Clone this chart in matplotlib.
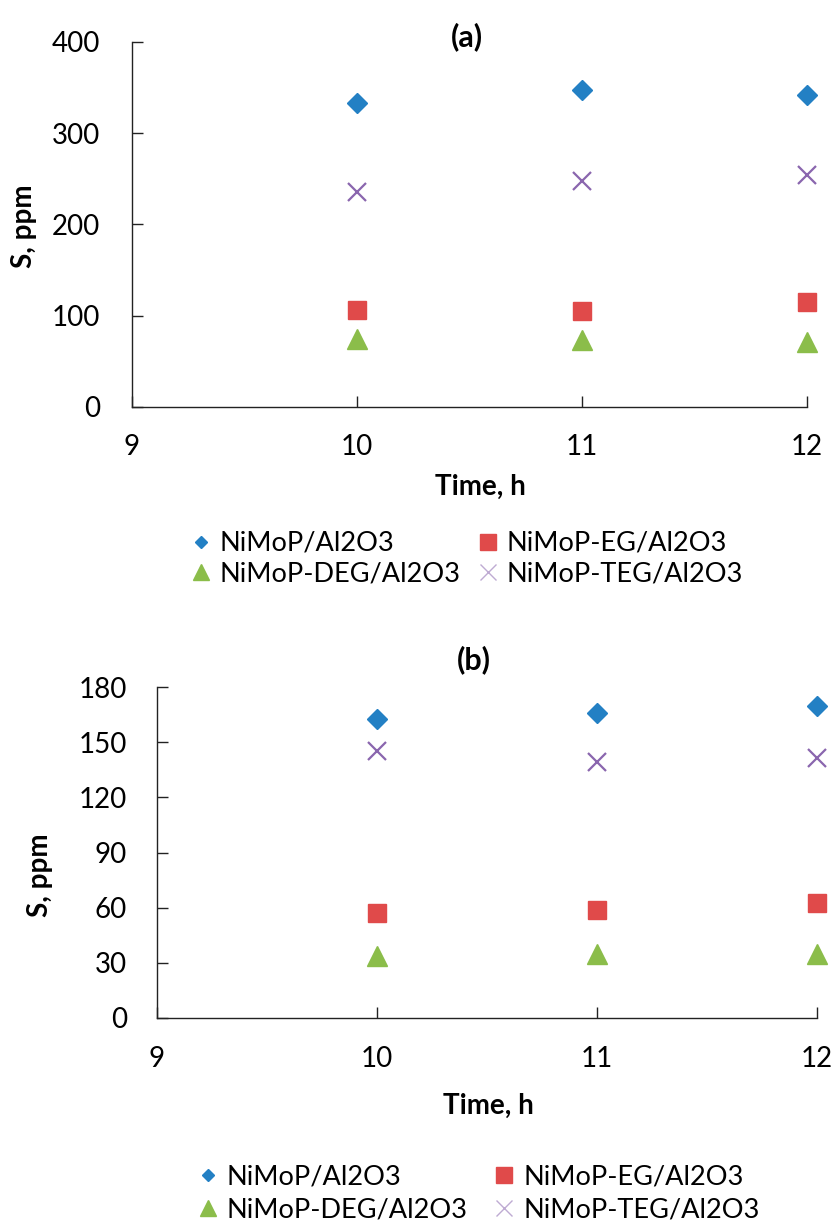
import matplotlib.pyplot as plt
from matplotlib.lines import Line2D

plt.rcParams['font.family'] = ['Lato', 'DejaVu Sans']

# data
time_h = [10, 11, 12]
series_names = ["NiMoP/Al2O3", "NiMoP-EG/Al2O3", "NiMoP-DEG/Al2O3", "NiMoP-TEG/Al2O3"]

# panel (a)
a_nimop = [333, 347, 342]
a_eg = [106, 105, 115]
a_deg = [75, 73, 71]
a_teg = [236, 248, 254]

# panel (b)
b_nimop = [162.5, 166, 169.5]
b_eg = [57, 59, 62.5]
b_deg = [33.5, 35, 35]
b_teg = [145, 139, 141.5]

colours = ["#2380C4", "#E04A4A", "#8BBD4A", "#8A66AE"]
markers = ["D", "s", "^", "x"]
sizes = [10, 13, 14, 13]
leg_sizes = [6.5, 11.5, 12, 12]

fig = plt.figure(figsize=(8.37, 12.32), dpi=100)
W, H = 837, 1232


def px_axes(left, top, right, bottom):
    return fig.add_axes([left / W, 1 - bottom / H, (right - left) / W, (bottom - top) / H])


def fig_text(x, y, s, **kw):
    fig.text(x / W, 1 - y / H, s, ha="center", va="center", fontweight="bold", **kw)


def draw_panel(ax, ys, ymax, ystep, ypad, xpad):
    for y, c, m, s in zip(ys, colours, markers, sizes):
        if m == "x":
            ax.plot(time_h, y, m, color=c, ms=s, mew=1.6, clip_on=False, zorder=3)
        else:
            ax.plot(time_h, y, m, color=c, ms=s, mec=c, clip_on=False, zorder=3)
    ax.set_xlim(9, 12)
    ax.set_ylim(0, ymax)
    ax.set_xticks([9, 10, 11, 12])
    ax.set_yticks(list(range(0, ymax + 1, ystep)))
    for s in ["top", "right"]:
        ax.spines[s].set_visible(False)
    for s in ["left", "bottom"]:
        ax.spines[s].set_linewidth(1.0)
        ax.spines[s].set_color("#222222")
    ax.tick_params(axis="both", direction="in", length=8, width=1.0, color="#222222",
                   labelsize=20)
    ax.tick_params(axis="y", pad=ypad)
    ax.tick_params(axis="x", pad=xpad)


# panel (a)
ax1 = px_axes(132, 42, 807, 407)
draw_panel(ax1, [a_nimop, a_eg, a_deg, a_teg], 400, 100, 23, 19.5)
fig_text(467, 37, "(a)", fontsize=22)
fig_text(24, 226, "S, ppm", fontsize=20, rotation=90)
fig_text(480, 487, "Time, h", fontsize=20)

# panel (b)
ax2 = px_axes(157, 687, 817, 1018)
draw_panel(ax2, [b_nimop, b_eg, b_deg, b_teg], 180, 30, 21.5, 20)
fig_text(474, 660, "(b)", fontsize=22)
fig_text(40, 875, "S, ppm", fontsize=20, rotation=90)
fig_text(488, 1106, "Time, h", fontsize=20)

# legends (two rows, two columns)
handles = []
for c, m, s in zip(colours, markers, leg_sizes):
    if m == "x":
        handles.append(Line2D([], [], ls="none", marker=m, color=c, ms=s, mew=1.0, alpha=0.55))
    else:
        handles.append(Line2D([], [], ls="none", marker=m, color=c, ms=s))
order = [0, 2, 1, 3]
for y_top, x_left, colsp, labsp in [(531, 190, 0.6, 0.2), (1164, 197, 0.95, 0.3)]:
    fig.legend([handles[i] for i in order], [series_names[i] for i in order],
               ncol=2, loc="upper left", bbox_to_anchor=(x_left / W, 1 - y_top / H),
               frameon=False, fontsize=19.5, handlelength=0.8, handletextpad=0.3,
               columnspacing=colsp, labelspacing=labsp, borderpad=0, borderaxespad=0)

fig.savefig("out.png", dpi=100)
